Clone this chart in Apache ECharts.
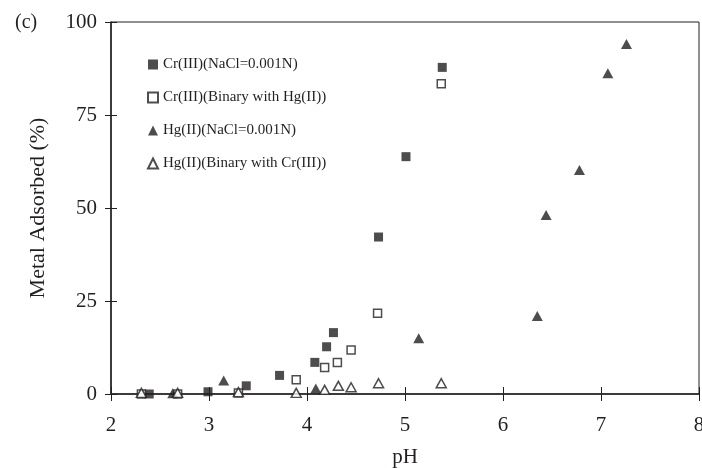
<!DOCTYPE html>
<html>
<head>
<meta charset="utf-8">
<script src="https://cdn.jsdelivr.net/npm/echarts@6/dist/echarts.min.js"></script>
<style>
  html, body { margin: 0; padding: 0; background: #fff; }
  #chart { width: 702px; height: 468px; }
</style>
</head>
<body>
<div id="chart"></div>
<script>
// pH values and % adsorbed
var crNaClX = [2.39, 2.99, 3.38, 3.72, 4.08, 4.20, 4.27, 4.73, 5.01, 5.38];
var crNaClY = [0, 0.6, 2.2, 5.0, 8.5, 12.7, 16.5, 42.2, 63.8, 87.8];

var crBinX = [2.31, 2.68, 3.30, 3.89, 4.18, 4.31, 4.45, 4.72, 5.37];
var crBinY = [0, 0, 0.3, 3.8, 7.1, 8.5, 11.8, 21.7, 83.4];

var hgNaClX = [2.63, 3.15, 4.09, 5.14, 6.35, 6.44, 6.78, 7.07, 7.26];
var hgNaClY = [0.2, 3.6, 1.5, 15.0, 21.0, 48.1, 60.2, 86.2, 94.1];

var hgBinX = [2.31, 2.68, 3.30, 3.89, 4.18, 4.32, 4.45, 4.73, 5.37];
var hgBinY = [0.3, 0.3, 0.5, 0.3, 1.1, 2.2, 1.8, 2.9, 2.9];

var seriesNames = [
  'Cr(III)(NaCl=0.001N)',
  'Cr(III)(Binary with Hg(II))',
  'Hg(II)(NaCl=0.001N)',
  'Hg(II)(Binary with Cr(III))'
];

var font = "'Liberation Serif', 'Times New Roman', serif";
var ink = '#231f20';

function pairs(xs, ys) {
  return xs.map(function (x, i) { return [x, ys[i]]; });
}

var filled = { color: ink };
var hollow = { color: '#fff', borderColor: ink, borderWidth: 1.5 };

var chart = echarts.init(document.getElementById('chart'));
chart.setOption({
  backgroundColor: '#fff',
  animation: false,
  title: {
    text: '(c)',
    left: 10,
    top: 8,
    textStyle: { fontFamily: font, fontSize: 20, fontWeight: 'normal', color: ink }
  },
  grid: {
    left: 111, right: 3, top: 22, bottom: 74,
    outerBoundsMode: 'none',
    show: true, borderColor: ink, borderWidth: 1
  },
  legend: {
    orient: 'vertical',
    left: 142,
    top: 52,
    itemWidth: 10,
    itemHeight: 10,
    itemGap: 18,
    textStyle: { fontFamily: font, fontSize: 15, color: ink },
    data: seriesNames
  },
  xAxis: [
    {
      type: 'value', min: 2, max: 8, interval: 1,
      name: 'pH', nameLocation: 'middle', nameGap: 53,
      nameTextStyle: { fontFamily: font, fontSize: 21, color: ink },
      axisLine: { lineStyle: { color: ink, width: 1.5 } },
      axisTick: { length: 7, lineStyle: { color: ink } },
      axisLabel: { margin: 21, fontFamily: font, fontSize: 21, color: ink },
      splitLine: { show: false }
    },
    {
      // second copy of the x axis only for the inward half of each tick
      type: 'value', min: 2, max: 8, interval: 1, position: 'bottom',
      axisLine: { show: false },
      axisTick: { inside: true, length: 7, lineStyle: { color: ink } },
      axisLabel: { show: false },
      splitLine: { show: false }
    }
  ],
  yAxis: [
    {
      type: 'value', min: 0, max: 100, interval: 25,
      name: 'Metal Adsorbed (%)', nameLocation: 'middle', nameGap: 62,
      nameTextStyle: { fontFamily: font, fontSize: 22, color: ink },
      axisLine: { lineStyle: { color: ink, width: 1.5 } },
      axisTick: { length: 6, lineStyle: { color: ink } },
      axisLabel: { margin: 14, fontFamily: font, fontSize: 21, color: ink },
      splitLine: { show: false }
    },
    {
      type: 'value', min: 0, max: 100, interval: 25, position: 'left',
      axisLine: { show: false },
      axisTick: { inside: true, length: 6, lineStyle: { color: ink } },
      axisLabel: { show: false },
      splitLine: { show: false }
    }
  ],
  series: [
    {
      name: seriesNames[0], type: 'scatter', symbol: 'rect', symbolSize: 9,
      itemStyle: filled, data: pairs(crNaClX, crNaClY)
    },
    {
      name: seriesNames[1], type: 'scatter', symbol: 'rect', symbolSize: 8,
      itemStyle: hollow, data: pairs(crBinX, crBinY)
    },
    {
      name: seriesNames[2], type: 'scatter', symbol: 'triangle', symbolSize: [11, 10],
      itemStyle: filled, data: pairs(hgNaClX, hgNaClY)
    },
    {
      name: seriesNames[3], type: 'scatter', symbol: 'triangle', symbolSize: [10, 9],
      itemStyle: hollow, data: pairs(hgBinX, hgBinY)
    }
  ]
});
</script>
</body>
</html>
